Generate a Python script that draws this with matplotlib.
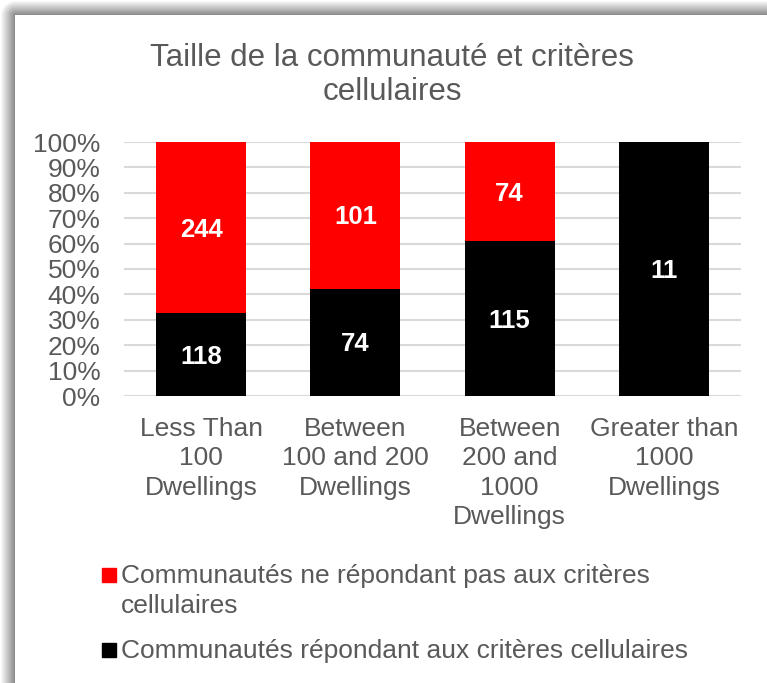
import matplotlib
matplotlib.use("Agg")
import matplotlib.pyplot as plt
import numpy as np
from matplotlib.patches import Rectangle
from matplotlib.ticker import PercentFormatter

# Data
categories = ["Less Than\n100\nDwellings", "Between\n100 and 200\nDwellings",
              "Between\n200 and\n1000\nDwellings", "Greater than\n1000\nDwellings"]
meeting = [118, 74, 115, 11]        # Communautés répondant aux critères
not_meeting = [244, 101, 74, 0]     # Communautés ne répondant pas
series_names = ["Communautés ne répondant pas aux critères\ncellulaires",
                "Communautés répondant aux critères cellulaires"]
title = "Taille de la communauté et critères\ncellulaires"

TEXT = "#595959"
RED = "#ff0000"
BLACK = "#000000"
W, H = 767, 683
FS = 19

plt.rcParams["font.family"] = ["Liberation Sans", "DejaVu Sans"]

fig = plt.figure(figsize=(W / 100, H / 100), dpi=100)

# frame shadow on the left/top edge
bg = fig.add_axes([0, 0, 1, 1], zorder=-5)
yy, xx = np.mgrid[0:H, 0:W]
dx = np.clip(15 - xx, 0, None)
dy = np.clip(15 - yy, 0, None)
d = np.sqrt(dx ** 2 + dy ** 2)
shade = np.where(d > 0, 0.52 + 0.48 * np.clip(d / 15, 0, 1), 1.0)
bg.imshow(shade, cmap="gray", vmin=0, vmax=1, extent=(0, W, H, 0), aspect="auto")
bg.axis("off")

ax = fig.add_axes([124 / W, 1 - 396 / H, (741 - 124) / W, (396 - 142) / H])
ax.set_facecolor("none")

meeting = np.array(meeting, dtype=float)
not_meeting = np.array(not_meeting, dtype=float)
total = meeting + not_meeting
p_meet = meeting / total * 100
p_not = not_meeting / total * 100
x = np.arange(len(categories))

ax.bar(x, p_meet, width=0.585, color=BLACK, zorder=3)
ax.bar(x, p_not, width=0.585, bottom=p_meet, color=RED, zorder=3)

# segment labels (nudged down a couple of pixels)
for i in range(len(x)):
    ax.annotate(f"{int(meeting[i])}", (x[i], p_meet[i] / 2), xytext=(0, -2),
                textcoords="offset pixels", ha="center", va="center",
                color="white", fontsize=18.5, fontweight="bold", zorder=4)
    if not_meeting[i] > 0:
        ax.annotate(f"{int(not_meeting[i])}", (x[i], p_meet[i] + p_not[i] / 2),
                    xytext=(0, -2), textcoords="offset pixels", ha="center",
                    va="center", color="white", fontsize=18.5, fontweight="bold",
                    zorder=4)

ax.set_xlim(-0.5, len(categories) - 0.5)
ax.set_ylim(0, 100)
ax.set_yticks(np.arange(0, 101, 10))
ax.yaxis.set_major_formatter(PercentFormatter(decimals=0))
ax.set_xticks(x)
ax.set_xticklabels(categories, linespacing=1.29, va="top")
ax.tick_params(axis="both", length=0, labelsize=FS, labelcolor=TEXT)
ax.tick_params(axis="x", pad=15)
ax.tick_params(axis="y", pad=17)
ax.grid(axis="y", color="#d9d9d9", linewidth=1.5, zorder=0)
for s in ax.spines.values():
    s.set_visible(False)

fig.text(392 / W, 1 - 75 / H, title, ha="center", va="center", fontsize=22.5,
         color=TEXT, linespacing=1.2)

# legend drawn by hand
leg_colors = [RED, BLACK]
leg_y = [575, 650]
for name, col, yc in zip(series_names, leg_colors, leg_y):
    fig.add_artist(Rectangle((102 / W, 1 - (yc + 7) / H), 14 / W, 14 / H,
                             transform=fig.transFigure, color=col))
    fig.text(121 / W, 1 - (yc - 11) / H, name, ha="left", va="top", fontsize=FS,
             color=TEXT, linespacing=1.29)

fig.savefig("out.png", dpi=100)
